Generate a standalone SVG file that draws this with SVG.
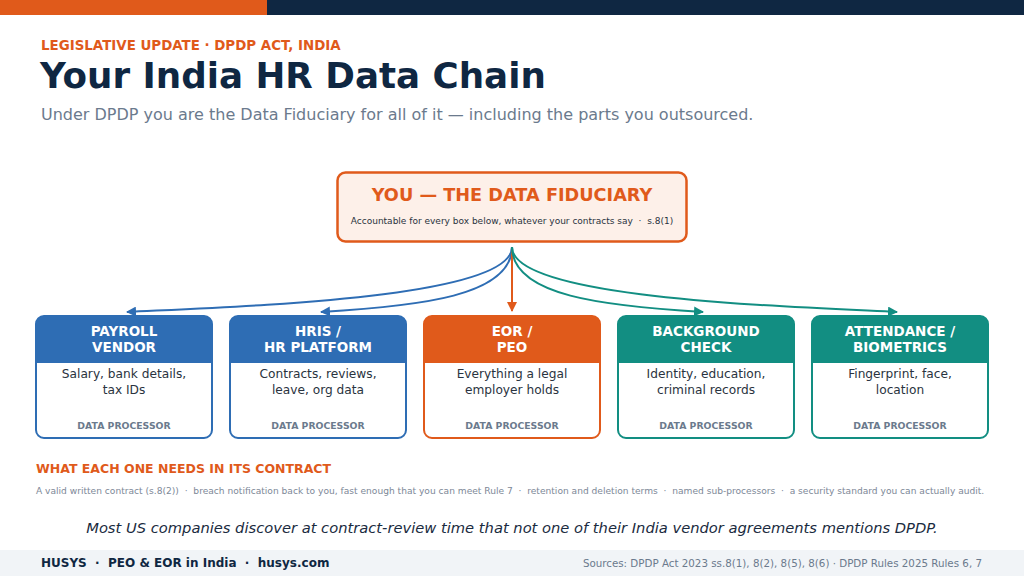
<svg xmlns="http://www.w3.org/2000/svg" width="1024" height="576" viewBox="0 0 1024 576">
<defs>
<style>
text{font-family:"DejaVu Sans","Liberation Sans",sans-serif}
.hd{font-weight:bold;font-size:13.5px;fill:#fff;text-anchor:middle}
.bd{font-size:12.2px;fill:#2A3340;text-anchor:middle}
.dp{font-weight:bold;font-size:9.3px;fill:#6B7A8D;text-anchor:middle}
.con{fill:none;stroke-width:2}
</style>
<marker id="ab" viewBox="0 0 10 10" refX="9" refY="5" markerWidth="5" markerHeight="5" orient="auto"><path d="M0,0 L10,5 L0,10 z" fill="#2E6DB4"/></marker>
<marker id="ao" viewBox="0 0 10 10" refX="9" refY="5" markerWidth="5" markerHeight="5" orient="auto"><path d="M0,0 L10,5 L0,10 z" fill="#E05A1B"/></marker>
<marker id="at" viewBox="0 0 10 10" refX="9" refY="5" markerWidth="5" markerHeight="5" orient="auto"><path d="M0,0 L10,5 L0,10 z" fill="#128E82"/></marker>
</defs>
<rect width="1024" height="576" fill="#fff"/>
<rect x="0" y="0" width="267" height="15" fill="#E05A1B"/>
<rect x="267" y="0" width="757" height="15" fill="#0F2742"/>
<text x="41" y="50" font-weight="bold" font-size="13.4" fill="#E05A1B">LEGISLATIVE UPDATE · DPDP ACT, INDIA</text>
<text x="40" y="88" font-weight="bold" font-size="35.7" fill="#0F2742">Your India HR Data Chain</text>
<text x="41" y="120" font-size="16" fill="#6B7A8D">Under DPDP you are the Data Fiduciary for all of it — including the parts you outsourced.</text>

<g id="connectors">
<path class="con" stroke="#2E6DB4" d="M512,247 C512,298 250,306 127,312" marker-end="url(#ab)"/>
<path class="con" stroke="#2E6DB4" d="M512,247 C512,296 420,306 321,312" marker-end="url(#ab)"/>
<path class="con" stroke="#E05A1B" d="M512,247 L512,311" marker-end="url(#ao)"/>
<path class="con" stroke="#128E82" d="M512,247 C512,296 604,306 703,312" marker-end="url(#at)"/>
<path class="con" stroke="#128E82" d="M512,247 C512,298 774,306 897,312" marker-end="url(#at)"/>
</g>

<g id="fiduciary">
<rect x="337.5" y="172.5" width="349" height="69" rx="8" fill="#FDF0E9" stroke="#E05A1B" stroke-width="2.5"/>
<text x="512" y="201" text-anchor="middle" font-weight="bold" font-size="17.7" fill="#E05A1B">YOU — THE DATA FIDUCIARY</text>
<text x="512" y="224" text-anchor="middle" font-size="9" fill="#2A3340" xml:space="preserve">Accountable for every box below, whatever your contracts say  ·  s.8(1)</text>
</g>

<g id="payroll">
<rect x="36" y="316" width="176" height="122" rx="8" fill="#fff" stroke="#2E6DB4" stroke-width="2"/>
<path d="M36,363 V324 a8,8 0 0 1 8,-8 H204 a8,8 0 0 1 8,8 V363 z" fill="#2E6DB4"/>
<text class="hd" x="124" y="336">PAYROLL</text><text class="hd" x="124" y="352">VENDOR</text>
<text class="bd" x="124" y="378">Salary, bank details,</text><text class="bd" x="124" y="394">tax IDs</text>
<text class="dp" x="124" y="429">DATA PROCESSOR</text>
</g>
<g id="hris">
<rect x="230" y="316" width="176" height="122" rx="8" fill="#fff" stroke="#2E6DB4" stroke-width="2"/>
<path d="M230,363 V324 a8,8 0 0 1 8,-8 H398 a8,8 0 0 1 8,8 V363 z" fill="#2E6DB4"/>
<text class="hd" x="318" y="336">HRIS /</text><text class="hd" x="318" y="352">HR PLATFORM</text>
<text class="bd" x="318" y="378">Contracts, reviews,</text><text class="bd" x="318" y="394">leave, org data</text>
<text class="dp" x="318" y="429">DATA PROCESSOR</text>
</g>
<g id="eor">
<rect x="424" y="316" width="176" height="122" rx="8" fill="#fff" stroke="#E05A1B" stroke-width="2"/>
<path d="M424,363 V324 a8,8 0 0 1 8,-8 H592 a8,8 0 0 1 8,8 V363 z" fill="#E05A1B"/>
<text class="hd" x="512" y="336">EOR /</text><text class="hd" x="512" y="352">PEO</text>
<text class="bd" x="512" y="378">Everything a legal</text><text class="bd" x="512" y="394">employer holds</text>
<text class="dp" x="512" y="429">DATA PROCESSOR</text>
</g>
<g id="background">
<rect x="618" y="316" width="176" height="122" rx="8" fill="#fff" stroke="#128E82" stroke-width="2"/>
<path d="M618,363 V324 a8,8 0 0 1 8,-8 H786 a8,8 0 0 1 8,8 V363 z" fill="#128E82"/>
<text class="hd" x="706" y="336">BACKGROUND</text><text class="hd" x="706" y="352">CHECK</text>
<text class="bd" x="706" y="378">Identity, education,</text><text class="bd" x="706" y="394">criminal records</text>
<text class="dp" x="706" y="429">DATA PROCESSOR</text>
</g>
<g id="attendance">
<rect x="812" y="316" width="176" height="122" rx="8" fill="#fff" stroke="#128E82" stroke-width="2"/>
<path d="M812,363 V324 a8,8 0 0 1 8,-8 H980 a8,8 0 0 1 8,8 V363 z" fill="#128E82"/>
<text class="hd" x="900" y="336">ATTENDANCE /</text><text class="hd" x="900" y="352">BIOMETRICS</text>
<text class="bd" x="900" y="378">Fingerprint, face,</text><text class="bd" x="900" y="394">location</text>
<text class="dp" x="900" y="429">DATA PROCESSOR</text>
</g>

<text x="36" y="473" font-weight="bold" font-size="12.5" fill="#E05A1B">WHAT EACH ONE NEEDS IN ITS CONTRACT</text>
<text x="36" y="494" font-size="9.1" fill="#7D8897" xml:space="preserve">A valid written contract (s.8(2))  ·  breach notification back to you, fast enough that you can meet Rule 7  ·  retention and deletion terms  ·  named sub-processors  ·  a security standard you can actually audit.</text>
<text x="512" y="533" text-anchor="middle" font-style="italic" font-size="14.7" fill="#1A2B40">Most US companies discover at contract-review time that not one of their India vendor agreements mentions DPDP.</text>

<rect x="0" y="550" width="1024" height="26" fill="#F1F4F7"/>
<text x="41" y="567" font-weight="bold" font-size="12" fill="#0F2742" xml:space="preserve">HUSYS  ·  PEO &amp; EOR in India  ·  husys.com</text>
<text x="982" y="567" text-anchor="end" font-size="10.3" fill="#6B7A8D">Sources: DPDP Act 2023 ss.8(1), 8(2), 8(5), 8(6) · DPDP Rules 2025 Rules 6, 7</text>
</svg>
